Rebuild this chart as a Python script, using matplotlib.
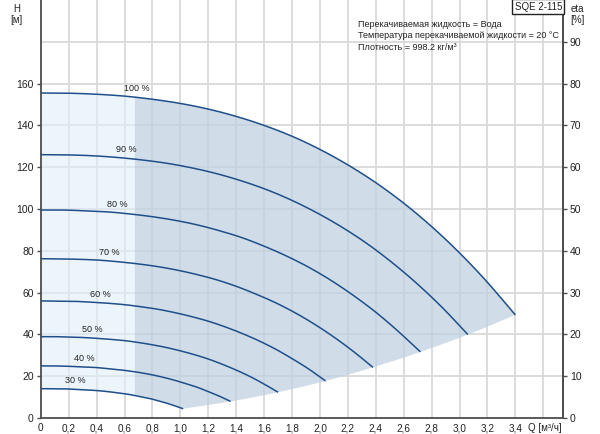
import numpy as np
import matplotlib
matplotlib.use('Agg')
import matplotlib.pyplot as plt

plt.rcParams['font.family'] = ['Liberation Sans', 'DejaVu Sans']

# напорные характеристики при разной частоте вращения (Q в м³/ч, H в м)
speeds = ['30 %', '40 %', '50 %', '60 %', '70 %', '80 %', '90 %', '100 %']

q100 = [0, 0.2, 0.4, 0.6, 0.8, 1.0, 1.2, 1.4, 1.6, 1.8, 2.0, 2.2, 2.4, 2.6, 2.8, 3.0, 3.2, 3.4]
h100 = [155.5, 155.4, 154.9, 154.0, 152.5, 150.5, 147.8, 144.3, 140.0, 134.8, 128.5, 121.1,
        112.6, 102.8, 91.6, 79.0, 64.9, 49.3]
q90 = [0, 0.18, 0.36, 0.54, 0.72, 0.9, 1.08, 1.26, 1.44, 1.62, 1.8, 1.98, 2.16, 2.34, 2.52, 2.7, 2.88, 3.06]
h90 = [126.0, 125.9, 125.5, 124.7, 123.5, 121.9, 119.7, 116.9, 113.4, 109.2, 104.1, 98.1,
       91.2, 83.3, 74.2, 64.0, 52.6, 39.9]
q80 = [0, 0.16, 0.32, 0.48, 0.64, 0.8, 0.96, 1.12, 1.28, 1.44, 1.6, 1.76, 1.92, 2.08, 2.24, 2.4, 2.56, 2.72]
h80 = [99.5, 99.5, 99.1, 98.6, 97.6, 96.3, 94.6, 92.4, 89.6, 86.3, 82.2, 77.5,
       72.1, 65.8, 58.6, 50.6, 41.5, 31.6]
q70 = [0, 0.14, 0.28, 0.42, 0.56, 0.7, 0.84, 0.98, 1.12, 1.26, 1.4, 1.54, 1.68, 1.82, 1.96, 2.1, 2.24, 2.38]
h70 = [76.2, 76.1, 75.9, 75.5, 74.7, 73.7, 72.4, 70.7, 68.6, 66.1, 63.0, 59.3,
       55.2, 50.4, 44.9, 38.7, 31.8, 24.2]
q60 = [0, 0.12, 0.24, 0.36, 0.48, 0.6, 0.72, 0.84, 0.96, 1.08, 1.2, 1.32, 1.44, 1.56, 1.68, 1.8, 1.92, 2.04]
h60 = [56.0, 55.9, 55.8, 55.4, 54.9, 54.2, 53.2, 52.0, 50.4, 48.5, 46.3, 43.6,
       40.5, 37.0, 33.0, 28.4, 23.4, 17.7]
q50 = [0, 0.1, 0.2, 0.3, 0.4, 0.5, 0.6, 0.7, 0.8, 0.9, 1.0, 1.1, 1.2, 1.3, 1.4, 1.5, 1.6, 1.7]
h50 = [38.9, 38.9, 38.7, 38.5, 38.1, 37.6, 37.0, 36.1, 35.0, 33.7, 32.1, 30.3,
       28.2, 25.7, 22.9, 19.8, 16.2, 12.3]
q40 = [0, 0.08, 0.16, 0.24, 0.32, 0.4, 0.48, 0.56, 0.64, 0.72, 0.8, 0.88, 0.96, 1.04, 1.12, 1.2, 1.28, 1.36]
h40 = [24.9, 24.9, 24.8, 24.6, 24.4, 24.1, 23.6, 23.1, 22.4, 21.6, 20.6, 19.4,
       18.0, 16.4, 14.7, 12.6, 10.4, 7.9]
q30 = [0, 0.06, 0.12, 0.18, 0.24, 0.3, 0.36, 0.42, 0.48, 0.54, 0.6, 0.66, 0.72, 0.78, 0.84, 0.9, 0.96, 1.02]
h30 = [14.0, 14.0, 13.9, 13.9, 13.7, 13.5, 13.3, 13.0, 12.6, 12.1, 11.6, 10.9,
       10.1, 9.3, 8.2, 7.1, 5.8, 4.4]

curves_q = [q30, q40, q50, q60, q70, q80, q90, q100]
curves_h = [h30, h40, h50, h60, h70, h80, h90, h100]

q_min_cont = 0.674   # граница области длительной работы
label_q = [0.25, 0.31, 0.37, 0.43, 0.49, 0.55, 0.61, 0.69]

xtick_vals = [0, 0.2, 0.4, 0.6, 0.8, 1.0, 1.2, 1.4, 1.6, 1.8, 2.0, 2.2, 2.4, 2.6, 2.8, 3.0, 3.2, 3.4]
xtick_text = ['0', '0,2', '0,4', '0,6', '0,8', '1,0', '1,2', '1,4', '1,6', '1,8', '2,0', '2,2',
              '2,4', '2,6', '2,8', '3,0', '3,2', '3,4']
ytick_vals = [0, 20, 40, 60, 80, 100, 120, 140, 160]
eta_ticks = [0, 10, 20, 30, 40, 50, 60, 70, 80, 90]

info = ['Перекачиваемая жидкость = Вода',
        'Температура перекачиваемой жидкости = 20 °C',
        'Плотность = 998.2 кг/м³']

line_c = '#1F4F8A'
grid_c = '#D9D9D9'
spine_c = '#4D4D4D'


def smooth(xs, ys, k=10):
    # сглаживание для отрисовки (Catmull-Rom через считанные точки)
    p = np.column_stack([xs, ys]).astype(float)
    p = np.vstack([2 * p[0] - p[1], p, 2 * p[-1] - p[-2]])
    t = np.linspace(0, 1, k, endpoint=False)[:, None]
    out = []
    for i in range(1, len(p) - 2):
        p0, p1, p2, p3 = p[i - 1], p[i], p[i + 1], p[i + 2]
        seg = 0.5 * (2 * p1 + (-p0 + p2) * t + (2 * p0 - 5 * p1 + 4 * p2 - p3) * t ** 2
                     + (-p0 + 3 * p1 - 3 * p2 + p3) * t ** 3)
        out.append(seg)
    out.append(p[-2][None, :])
    out = np.vstack(out)
    return out[:, 0], out[:, 1]


fig = plt.figure(figsize=(6, 4.34), dpi=100)
ax = fig.add_axes([0.068, 0.037, 0.87, 0.963])
ax.set_xlim(0, 3.74)
ax.set_ylim(0, 200)

for x in np.arange(0.2, 3.7, 0.2):
    ax.axvline(x, color=grid_c, lw=1.3, zorder=0)
for y in range(20, 200, 20):
    ax.axhline(y, color=grid_c, lw=1.3, zorder=0)

sq100, sh100 = smooth(q100, h100)
sq30, sh30 = smooth(q30, h30)

# светлая область слева
grid_q = np.linspace(0, q_min_cont, 60)
top_l = np.interp(grid_q, sq100, sh100)
bot_l = np.interp(grid_q, sq30, sh30)
ax.fill_between(grid_q, bot_l, top_l, color='#E2EFFB', alpha=0.6, lw=0, zorder=1)

# тёмная область
end_q = [c[-1] for c in curves_q]
end_h = [c[-1] for c in curves_h]
seq, seh = smooth(end_q, end_h, 6)
top_q = np.linspace(q_min_cont, q100[-1], 200)
top_h = np.interp(top_q, sq100, sh100)
sel = sq30 > q_min_cont
bot_q = np.concatenate([[q_min_cont], sq30[sel], seq[1:]])
bot_h = np.concatenate([[np.interp(q_min_cont, sq30, sh30)], sh30[sel], seh[1:]])
poly_x = np.concatenate([top_q, bot_q[::-1]])
poly_y = np.concatenate([top_h, bot_h[::-1]])
ax.fill(poly_x, poly_y, color='#BFD0E0', alpha=0.72, lw=0, zorder=1)

for qs, hs, name, lq in zip(curves_q, curves_h, speeds, label_q):
    sx, sy = smooth(qs, hs)
    ax.plot(sx, sy, color=line_c, lw=1.1, zorder=3, solid_capstyle='butt')
    ly = np.interp(lq, qs, hs)
    ax.annotate(name, (lq, ly), xytext=(0, 3), textcoords='offset points',
                ha='center', va='bottom', fontsize=6.5, color='#222222', zorder=4)

ax.set_xticks(xtick_vals)
ax.set_xticklabels(xtick_text)
ax.set_yticks(ytick_vals)
ax.set_yticklabels([str(v) for v in ytick_vals])
ax.tick_params(axis='y', labelsize=7.5, colors='#222222', length=3, width=1, direction='out',
               pad=2, color=spine_c)
ax.tick_params(axis='x', labelsize=7.2, colors='#222222', length=0, pad=4)
ax.annotate('Q [м³/ч]', (3.61, 0), xycoords=ax.get_xaxis_transform(), xytext=(0, -4),
            textcoords='offset points', ha='center', va='top', fontsize=7, color='#222222',
            annotation_clip=False)

ax.spines['top'].set_visible(False)
for s in ['left', 'bottom', 'right']:
    ax.spines[s].set_color(spine_c)
    ax.spines[s].set_linewidth(1.3)

ax2 = ax.twinx()
ax2.set_ylim(0, 100)
ax2.set_yticks(eta_ticks)
ax2.set_yticklabels([str(v) for v in eta_ticks])
ax2.tick_params(axis='y', labelsize=7.5, colors='#222222', length=3, width=1, pad=2, color=spine_c)
ax2.spines['top'].set_visible(False)
ax2.spines['right'].set_color(spine_c)
ax2.spines['right'].set_linewidth(1.3)
ax2.spines['left'].set_visible(False)
ax2.spines['bottom'].set_visible(False)

fig.text(0.028, 0.99, 'H', ha='center', va='top', fontsize=7, color='#222222')
fig.text(0.028, 0.965, '[м]', ha='center', va='top', fontsize=7, color='#222222')
fig.text(0.963, 0.99, 'eta', ha='center', va='top', fontsize=7, color='#222222')
fig.text(0.963, 0.965, '[%]', ha='center', va='top', fontsize=7, color='#222222')

fig.text(0.597, 0.955, '\n'.join(info), ha='left', va='top', fontsize=6.5,
         color='#222222', linespacing=1.4)
fig.text(0.897, 0.985, 'SQE 2-115', ha='center', va='center', fontsize=7, color='#222222',
         bbox=dict(boxstyle='square,pad=0.25', fc='white', ec='#222222', lw=1))

fig.savefig('out.png', dpi=100)
